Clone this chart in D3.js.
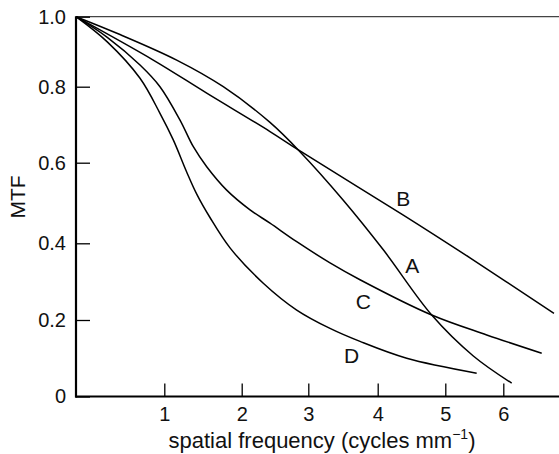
<!DOCTYPE html>
<html>
<head>
<meta charset="utf-8">
<script src="https://cdn.jsdelivr.net/npm/d3@7"></script>
<style>
  html, body { margin: 0; padding: 0; background: #fff; }
  svg { display: block; }
  text { font-family: "Liberation Sans", Arial, Helvetica, sans-serif; fill: #111; }
</style>
</head>
<body>
<svg id="chart" width="559" height="454"></svg>
<script>
// ---- data ----
const xTicks = [1, 2, 3, 4, 5, 6];
const yTicks = [0, 0.2, 0.4, 0.6, 0.8, 1.0];
const yTickLabels = ["0", "0.2", "0.4", "0.6", "0.8", "1.0"];

const curveA = [[0,1.0],[0.498,0.949],[1.160,0.876],[1.762,0.800],[2.425,0.706],[2.875,0.629],[3.504,0.507],[4.083,0.383],[4.799,0.213],[5.483,0.106],[6.147,0.035]];
const curveB = [[0,1.0],[0.875,0.876],[1.548,0.783],[2.425,0.682],[2.875,0.631],[4.379,0.470],[5.426,0.362],[6.889,0.2175]];
const curveC = [[0,1.0],[0.354,0.941],[0.725,0.862],[0.951,0.800],[1.203,0.712],[1.375,0.642],[1.548,0.590],[1.806,0.532],[2.125,0.483],[2.425,0.450],[2.826,0.404],[3.313,0.349],[3.745,0.305],[4.799,0.213],[5.714,0.161],[6.674,0.113]];
const curveD = [[0,1.0],[0.354,0.928],[0.725,0.824],[0.951,0.730],[1.116,0.660],[1.289,0.577],[1.419,0.522],[1.590,0.464],[1.849,0.388],[2.324,0.296],[2.826,0.226],[3.313,0.178],[3.745,0.144],[4.429,0.100],[5.541,0.061]];

const seriesNames = ["A", "B", "C", "D"];
const seriesData = [curveA, curveB, curveC, curveD];
const labelPos = [[4.51,0.343],[4.379,0.512],[3.793,0.248],[3.625,0.108]];

// ---- layout ----
const W = 559, H = 454;
const svg = d3.select("#chart");

// hand-drawn axis: tick spacing in the original figure is uneven, so use polylinear scales
const x = d3.scaleLinear()
  .domain([0, 1, 2, 3, 4, 5, 6, 7])
  .range([76, 164.3, 241.7, 308.3, 377.7, 445.3, 503.3, 560.3]);
const y = d3.scaleLinear()
  .domain([0, 0.2, 0.4, 0.6, 0.8, 1.0])
  .range([396.5, 320, 243.3, 162.7, 86.7, 16.7]);

// top frame line
svg.append("line")
  .attr("x1", x(0)).attr("x2", W)
  .attr("y1", y(1)).attr("y2", y(1))
  .attr("stroke", "#444").attr("stroke-width", 1.3);

// curves
const line = d3.line()
  .x(d => x(d[0])).y(d => y(d[1]))
  .curve(d3.curveCatmullRom.alpha(0.5));

svg.append("g").selectAll("path")
  .data(seriesData)
  .join("path")
  .attr("d", line)
  .attr("fill", "none")
  .attr("stroke", "#000")
  .attr("stroke-width", 1.5);

// x axis
const gx = svg.append("g")
  .attr("transform", `translate(0,${y(0)})`)
  .call(d3.axisBottom(x).tickValues(xTicks).tickFormat(d3.format("d"))
    .tickSize(-13).tickPadding(10.5));
gx.select(".domain").remove();
gx.selectAll(".tick line").attr("stroke", "#000").attr("stroke-width", 1.3);
gx.selectAll(".tick text").attr("font-size", 20).attr("fill", "#111")
  .attr("font-family", "Liberation Sans, Arial, sans-serif");

// y axis
const gy = svg.append("g")
  .attr("transform", `translate(${x(0)},0)`)
  .call(d3.axisLeft(y).tickValues(yTicks).tickFormat((d, i) => yTickLabels[i])
    .tickSize(-14).tickPadding(10));
gy.select(".domain").remove();
gy.selectAll(".tick line").attr("stroke", "#000").attr("stroke-width", 1.3);
gy.selectAll(".tick text").attr("font-size", 20).attr("fill", "#111")
  .attr("font-family", "Liberation Sans, Arial, sans-serif");

// axis lines
svg.append("line")
  .attr("x1", x(0)).attr("x2", x(0))
  .attr("y1", y(1) - 0.5).attr("y2", y(0) + 1)
  .attr("stroke", "#000").attr("stroke-width", 2.2);
svg.append("line")
  .attr("x1", x(0) - 1).attr("x2", W)
  .attr("y1", y(0)).attr("y2", y(0))
  .attr("stroke", "#000").attr("stroke-width", 2.2);

// curve labels
svg.append("g").selectAll("text")
  .data(seriesNames)
  .join("text")
  .attr("x", (d, i) => x(labelPos[i][0]))
  .attr("y", (d, i) => y(labelPos[i][1]))
  .attr("dy", "0.36em")
  .attr("text-anchor", "middle")
  .attr("font-size", 21)
  .text(d => d);

// axis titles
const xt = svg.append("text")
  .attr("x", 322)
  .attr("y", 448)
  .attr("text-anchor", "middle")
  .attr("font-size", 22);
xt.append("tspan").text("spatial frequency (cycles mm");
xt.append("tspan").attr("font-size", 14).attr("dy", -9).text("\u22121");
xt.append("tspan").attr("dy", 9).text(")");

svg.append("text")
  .attr("transform", "translate(25,197) rotate(-90)")
  .attr("text-anchor", "middle")
  .attr("font-size", 21)
  .text("MTF");
</script>
</body>
</html>
